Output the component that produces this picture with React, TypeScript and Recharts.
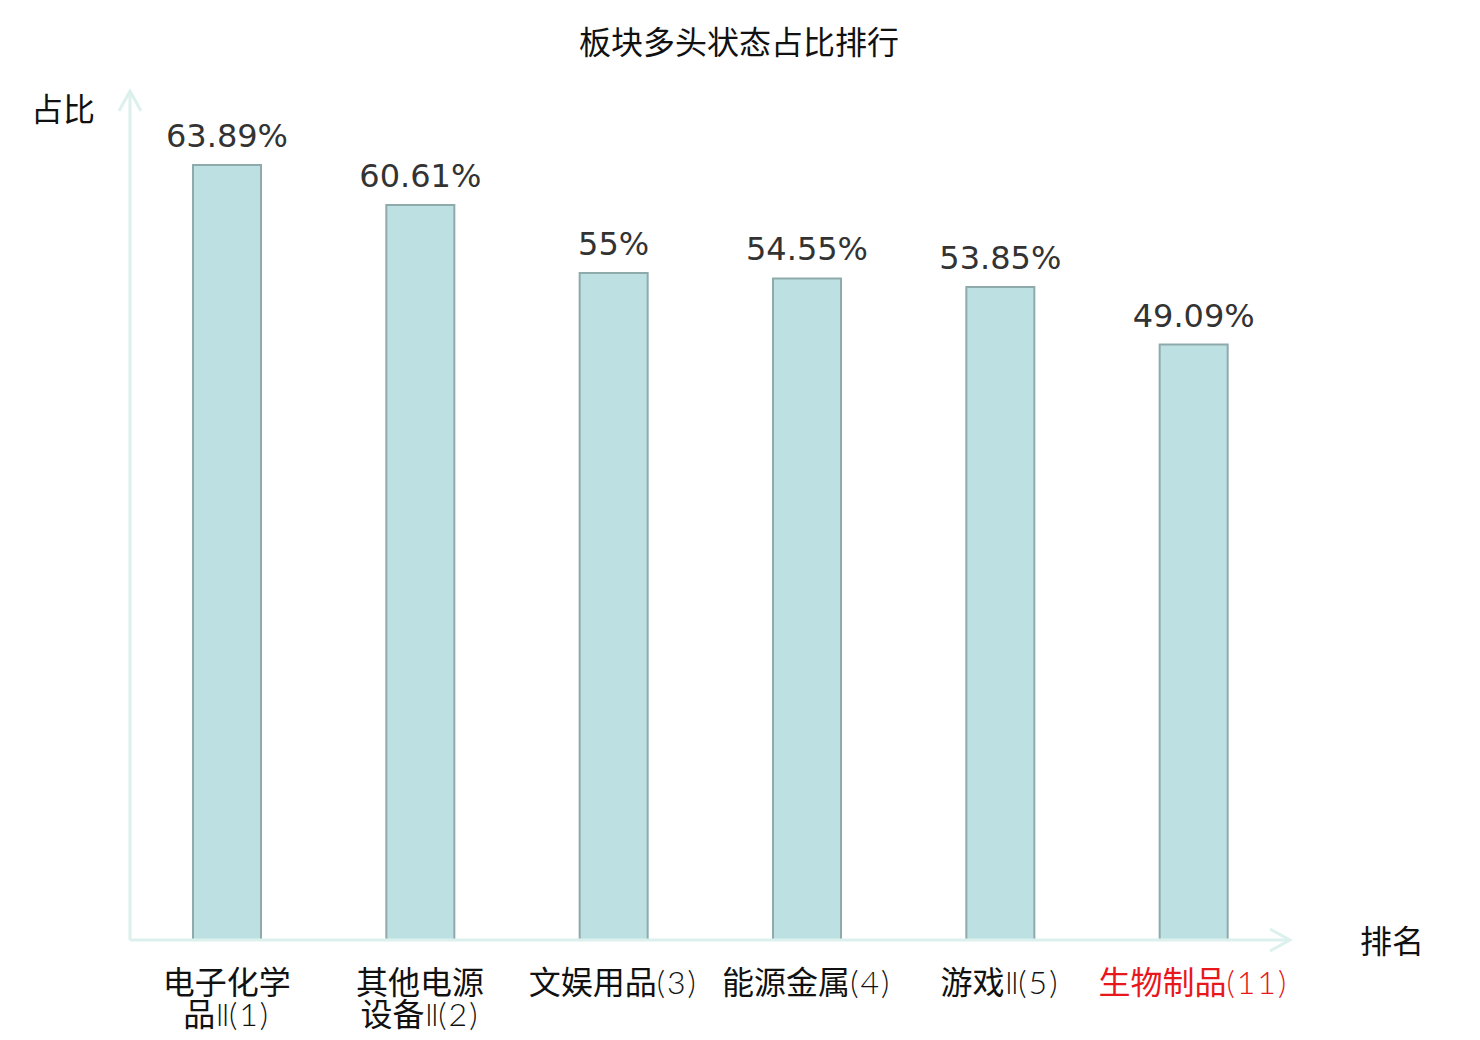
import React from 'react';
import { BarChart, Bar, XAxis, YAxis, LabelList, Customized } from 'recharts';

const categories = ['电子化学品Ⅱ(1)', '其他电源设备Ⅱ(2)', '文娱用品(3)', '能源金属(4)', '游戏Ⅱ(5)', '生物制品(11)'];
const tickLines = [
  ['电子化学', '品Ⅱ(1)'],
  ['其他电源', '设备Ⅱ(2)'],
  ['文娱用品(3)'],
  ['能源金属(4)'],
  ['游戏Ⅱ(5)'],
  ['生物制品(11)'],
];
const values = [63.89, 60.61, 55, 54.55, 53.85, 49.09];
const highlightIndex = 5;

const data = categories.map((name, i) => ({ name, value: values[i] }));

const AXIS_COLOR = '#dcf1ee';
const CJK = '"Noto Sans CJK SC", "Noto Sans", sans-serif';
const LIGHT = 'Lato, Roboto, "Open Sans", "DejaVu Sans", sans-serif';

const splitLine = (l: string) => {
  const m = l.match(/^([^Ⅱ(]*)(Ⅱ?)(.*)$/);
  return m ? [m[1], m[2], m[3]] : [l, '', ''];
};

const CustomTick = (props: any) => {
  const { x, y, index } = props;
  const lines = tickLines[index] || [String(props.payload?.value ?? '')];
  const color = index === highlightIndex ? '#e8171b' : '#111111';
  return (
    <text x={x} y={y} textAnchor="middle" fontSize={32} fontFamily={CJK} fill={color}>
      {lines.map((l, i) => {
        const [a, roman, b] = splitLine(l);
        return (
          <tspan key={i} x={x} dy={i === 0 ? 54 : 32}>
            <tspan>{a}</tspan>
            {roman ? (
              <tspan fontFamily={LIGHT} fontWeight={300} fontSize={30} letterSpacing={-1}>
                {roman}
              </tspan>
            ) : null}
            {b ? (
              <tspan fontFamily={LIGHT} fontWeight={300} letterSpacing={2}>
                {b}
              </tspan>
            ) : null}
          </tspan>
        );
      })}
    </text>
  );
};

const Decor = () => (
  <g>
    <defs>
      <marker
        id="arrowHead"
        viewBox="0 0 26 28"
        refX={23}
        refY={14}
        markerWidth={26}
        markerHeight={28}
        markerUnits="userSpaceOnUse"
        orient="auto-start-reverse"
        overflow="visible"
      >
        <path d="M3 3 L23 14 L3 25" fill="none" stroke={AXIS_COLOR} strokeWidth={3} />
      </marker>
    </defs>
    <text x={739} y={54} textAnchor="middle" fontSize={32} fontFamily={CJK} fill="#111">
      板块多头状态占比排行
    </text>
    <text x={63} y={121} textAnchor="middle" fontSize={32} fontFamily={CJK} fill="#111">
      占比
    </text>
    <text x={1392} y={953} textAnchor="middle" fontSize={32} fontFamily={CJK} fill="#111">
      排名
    </text>
  </g>
);

export default function App() {
  return (
    <div style={{ position: 'absolute', left: 0, top: 0, width: 1480, height: 1040, background: '#fff' }}>
      <BarChart width={1480} height={1040} data={data} margin={{ top: 91, right: 190, bottom: 0, left: 110 }}>
        <Customized component={Decor} />
        <XAxis
          dataKey="name"
          height={100}
          interval={0}
          tickLine={false}
          tickSize={0}
          tickMargin={0}
          tick={<CustomTick />}
          axisLine={{ stroke: AXIS_COLOR, strokeWidth: 3, markerEnd: 'url(#arrowHead)' }}
        />
        <YAxis
          domain={[0, 70]}
          width={20}
          tick={false}
          tickLine={false}
          axisLine={{ stroke: AXIS_COLOR, strokeWidth: 3, markerStart: 'url(#arrowHead)' }}
        />
        <Bar dataKey="value" fill="#bde0e3" stroke="#8eaaab" strokeWidth={2} barSize={68} isAnimationActive={false}>
          <LabelList
            dataKey="value"
            position="top"
            offset={18}
            formatter={(v: any) => `${v}%`}
            fill="#333333"
            fontSize={32}
            fontFamily='"DejaVu Sans", sans-serif'
          />
        </Bar>
      </BarChart>
    </div>
  );
}
